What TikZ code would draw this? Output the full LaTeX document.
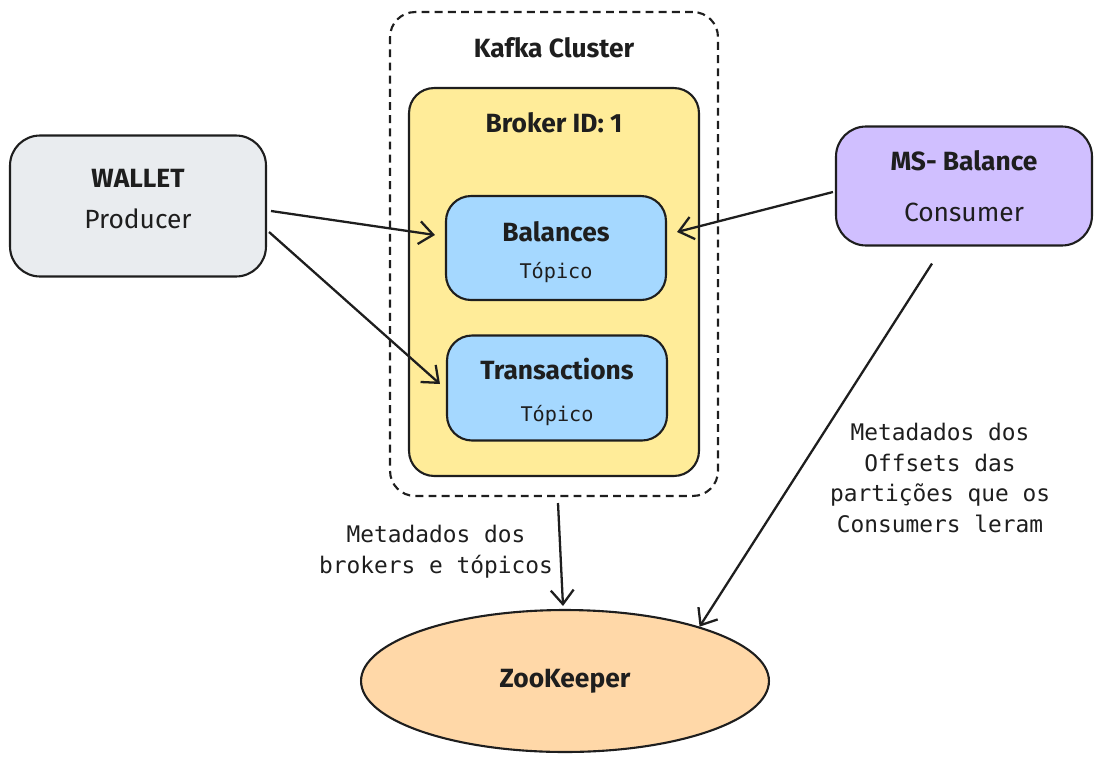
\documentclass[tikz,border=0pt]{standalone}
\usepackage{fontspec}
\setmainfont{Fira Sans}
\setmonofont{DejaVu Sans Mono}
\usetikzlibrary{positioning,calc,arrows.meta,shapes.geometric}
\definecolor{ink}{HTML}{1E1E1E}
\definecolor{walletgray}{HTML}{E9ECEF}
\definecolor{mspurple}{HTML}{D0BFFF}
\definecolor{brokeryellow}{HTML}{FFEC99}
\definecolor{topicblue}{HTML}{A5D8FF}
\definecolor{zkorange}{HTML}{FFD8A8}

\begin{document}
\begin{tikzpicture}[x=0.02cm,y=-0.02cm,
  box/.style={draw=ink,line width=1.2pt,rounded corners=0.5cm,inner sep=0pt,align=center,text=ink},
  arr/.style={draw=ink,line width=1.3pt,-{Straight Barb[length=8pt,width=13pt,line width=1.3pt]}},
  heading/.style={font=\bfseries\fontsize{15}{18}\selectfont,text=ink},
  note/.style={font=\ttfamily\fontsize{13}{17.6}\selectfont,align=center,text=ink}]
\useasboundingbox (0,0) rectangle (1102,761);

% kafka cluster and broker
\node (cluster) [box,dashed,dash pattern=on 4.5pt off 3pt,minimum width=6.56cm,minimum height=9.68cm] at (554,254) {};
\node (clustertitle) [heading,below=0.4cm of cluster.north] {Kafka Cluster};
\node (broker) [box,fill=brokeryellow,minimum width=5.8cm,minimum height=7.76cm] at (554,282) {};
\node (brokertitle) [heading,below=0.38cm of broker.north] {Broker ID: 1};

% topics
\node (bal) [box,fill=topicblue,minimum width=4.4cm,minimum height=2.08cm] at (556,248)
  {\rule{0pt}{16pt}{\bfseries\fontsize{15}{18}\selectfont Balances}\\[9pt]{\ttfamily\fontsize{11.5}{14}\selectfont Tópico}};
\node (trans) [box,fill=topicblue,minimum width=4.4cm,minimum height=2.1cm] at (557,388)
  {\rule{0pt}{16.5pt}{\bfseries\fontsize{15}{18}\selectfont Transactions}\\[12pt]{\ttfamily\fontsize{11.5}{14}\selectfont Tópico}};

% producer and consumer
\node (wallet) [box,fill=walletgray,rounded corners=0.6cm,minimum width=5.12cm,minimum height=2.82cm] at (138,206)
  {{\bfseries\fontsize{15}{18}\selectfont WALLET}\\[11pt]{\fontsize{15}{18}\selectfont Producer}\\[-4pt]};
\node (ms) [box,fill=mspurple,rounded corners=0.6cm,minimum width=5.12cm,minimum height=2.38cm] at (964,186)
  {{\bfseries\fontsize{15}{18}\selectfont MS- Balance}\\[17pt]{\fontsize{15}{18}\selectfont Consumer}};

% zookeeper
\node (zk) [ellipse,draw=ink,line width=1.2pt,fill=zkorange,inner sep=0pt,minimum width=8.16cm,minimum height=2.84cm,heading] at (565,681) {ZooKeeper};

% connectors
\draw[arr] ($(wallet.east)+(4,5)$) -- ($(bal.west)+(-10,-13)$);
\draw[arr] ($(wallet.east)+(2,26)$) -- ($(trans.west)+(-6,-4)$);
\draw[arr] ($(ms.west)+(-2,6)$) -- ($(bal.east)+(10,-16)$);
\draw[arr] ($(cluster.south)+(4,6)$) -- ($(zk.north)+(-2,-3)$);
\draw[arr] ($(ms.south)+(-32,17)$) -- (zk.22);

% notes
\node (brokernote) [note] at (436,552) {Metadados dos\\brokers e tópicos};
\node (offsetnote) [note] at (940,478) {Metadados dos\\Offsets das\\partições que os\\Consumers leram};
\end{tikzpicture}
\end{document}
